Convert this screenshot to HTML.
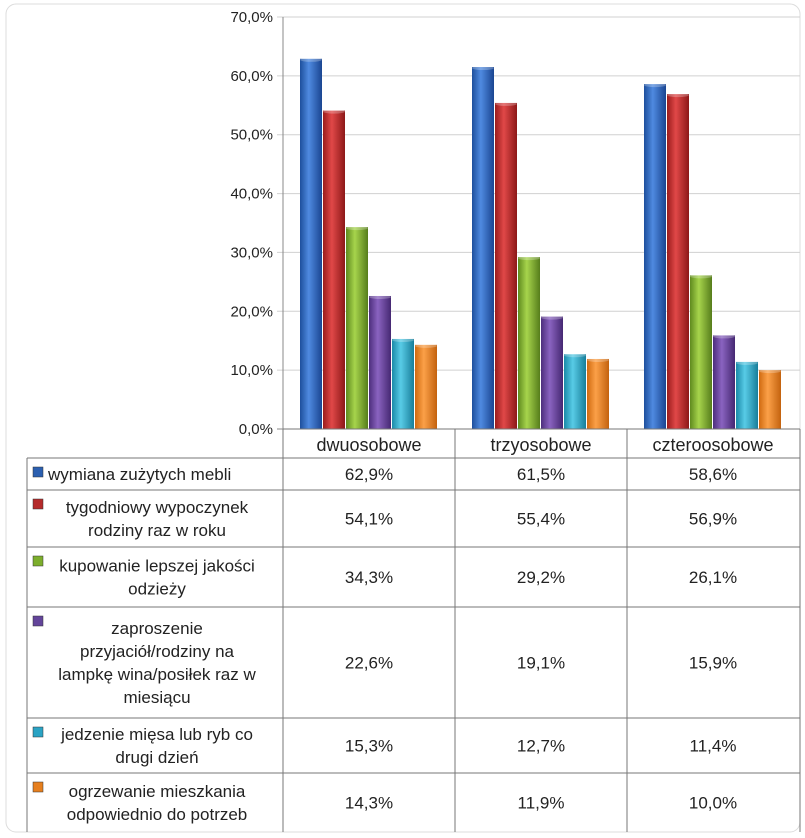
<!DOCTYPE html>
<html><head><meta charset="utf-8">
<style>
body{margin:0;background:#fff;font-family:"Liberation Sans",sans-serif;}
svg{display:block}
</style></head>
<body>
<svg id="c" width="805" height="838" viewBox="0 0 805 838" xmlns="http://www.w3.org/2000/svg">
<defs>
<linearGradient id="gb" x1="0" x2="1"><stop offset="0" stop-color="#1d4f9c"/><stop offset=".4" stop-color="#4f8ae0"/><stop offset="1" stop-color="#1a4591"/></linearGradient>
<linearGradient id="gr" x1="0" x2="1"><stop offset="0" stop-color="#9a1c1c"/><stop offset=".4" stop-color="#e04848"/><stop offset="1" stop-color="#8d1818"/></linearGradient>
<linearGradient id="gg" x1="0" x2="1"><stop offset="0" stop-color="#5f8a1e"/><stop offset=".4" stop-color="#a6d44c"/><stop offset="1" stop-color="#567d1b"/></linearGradient>
<linearGradient id="gp" x1="0" x2="1"><stop offset="0" stop-color="#4d2e7c"/><stop offset=".4" stop-color="#8a63c0"/><stop offset="1" stop-color="#452872"/></linearGradient>
<linearGradient id="gc" x1="0" x2="1"><stop offset="0" stop-color="#1a8aa8"/><stop offset=".4" stop-color="#58cbe6"/><stop offset="1" stop-color="#187e9a"/></linearGradient>
<linearGradient id="go" x1="0" x2="1"><stop offset="0" stop-color="#d06a10"/><stop offset=".4" stop-color="#fba048"/><stop offset="1" stop-color="#c3620e"/></linearGradient>
</defs>
<rect x="6" y="4" width="794" height="828" rx="10" fill="#fff" stroke="#dcdcdc"/>
<g id="grid"></g><g id="bars"></g><g id="table"></g>
</svg>
<script>
const categories=["dwuosobowe","trzyosobowe","czteroosobowe"];
const seriesNames=[["wymiana zużytych mebli"],["tygodniowy wypoczynek","rodziny raz w roku"],["kupowanie lepszej jakości","odzieży"],["zaproszenie","przyjaciół/rodziny na","lampkę wina/posiłek raz w","miesiącu"],["jedzenie mięsa lub ryb co","drugi dzień"],["ogrzewanie mieszkania","odpowiednio do potrzeb"]];
const s1=[62.9,61.5,58.6];
const s2=[54.1,55.4,56.9];
const s3=[34.3,29.2,26.1];
const s4=[22.6,19.1,15.9];
const s5=[15.3,12.7,11.4];
const s6=[14.3,11.9,10.0];
const yTicks=[0,10,20,30,40,50,60,70];
const series=[s1,s2,s3,s4,s5,s6];
const fills=["url(#gb)","url(#gr)","url(#gg)","url(#gp)","url(#gc)","url(#go)"];
const keyCols=["#2b5fb0","#b52a2a","#7cae2c","#63449a","#2aa3c4","#e67f1e"];
const NS="http://www.w3.org/2000/svg";
const X0=283,Y0=429,YT=17,CW=172,TR=800;
const y=v=>Y0-(v/70)*(Y0-YT);
const xc=i=>X0+i*CW;
function mk(tag,at,parent){const e=document.createElementNS(NS,tag);for(const k in at)e.setAttribute(k,at[k]);parent.appendChild(e);return e;}
const G=document.getElementById('grid'),B=document.getElementById('bars'),T=document.getElementById('table');
yTicks.forEach(t=>{
 const l=mk('line',{x1:X0-6,x2:TR,y1:y(t),y2:y(t),stroke:t?'#d0d0d0':'#888','stroke-width':1},G);
 
 
 const tx=mk('text',{x:X0-10,y:y(t)+5,'text-anchor':'end','font-size':15,fill:'#222'},G);
 tx.textContent=t.toFixed(1).replace('.',',')+'%';
 
 
});
mk('line',{x1:X0,x2:X0,y1:YT,y2:Y0,stroke:'#888'},G);
const bw=23;
categories.forEach((c,i)=>{
 series.forEach((s,j)=>{
  const bx=xc(i)+17+j*bw, by=y(s[i]);
  const r=mk('rect',{x:bx,y:by,width:bw-1,height:Y0-by,fill:fills[j]},B);
  
  
  mk('ellipse',{cx:bx+(bw-1)/2,cy:by+1,rx:(bw-1)/2,ry:2,fill:'#fff','fill-opacity':.25},B);
 });
});
const rows=[458,490,547,607,718,773,832];
const L=27;
mk('line',{x1:X0,x2:X0,y1:Y0,y2:832,stroke:'#777'},T);
[455,627,TR].forEach(x=>mk('line',{x1:x,x2:x,y1:Y0,y2:832,stroke:'#777'},T));
mk('line',{x1:L,x2:L,y1:458,y2:832,stroke:'#777'},T);
mk('line',{x1:X0,x2:TR,y1:Y0,y2:Y0,stroke:'#777'},T);
rows.slice(0,6).forEach(r=>mk('line',{x1:L,x2:TR,y1:r,y2:r,stroke:'#777'},T));
categories.forEach((c,i)=>{
 const t=mk('text',{x:xc(i)+CW/2,y:451,'text-anchor':'middle','font-size':18,fill:'#222'},T);
 t.textContent=c;
 
 
});
series.forEach((s,j)=>{
 const top=rows[j],bot=rows[j+1],mid=(top+bot)/2,lines=seriesNames[j],lh=23;
 const k=mk('rect',{x:33,y:top+9,width:10,height:10,fill:keyCols[j],stroke:'#333','stroke-width':.5},T);
 
 
 lines.forEach((ln,li)=>{
  const ty=mid-(lines.length-1)*lh/2+li*lh+6;
  const t=mk('text',{x:lines.length==1?48:157,y:ty,'text-anchor':lines.length==1?'start':'middle','font-size':17,fill:'#222'},T);
  t.textContent=ln;
  
  
 });
 categories.forEach((c,i)=>{
  const t=mk('text',{x:xc(i)+CW/2,y:mid+6,'text-anchor':'middle','font-size':17,fill:'#222'},T);
  t.textContent=s[i].toFixed(1).replace('.',',')+'%';
  
  
 });
});
</script>
</body></html>
